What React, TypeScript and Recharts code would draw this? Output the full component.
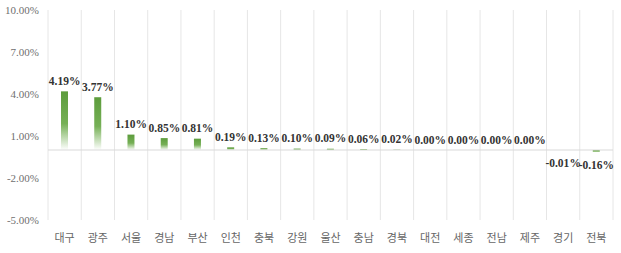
import { Bar, CartesianGrid, ComposedChart, LabelList, Line, ReferenceLine, XAxis, YAxis } from "recharts";

const regions = ["대구", "광주", "서울", "경남", "부산", "인천", "충북", "강원", "울산", "충남", "경북", "대전", "세종", "전남", "제주", "경기", "전북"];
const changes = [4.19, 3.77, 1.1, 0.85, 0.81, 0.19, 0.13, 0.1, 0.09, 0.06, 0.02, 0, 0, 0, 0, -0.01, -0.16];
const yTicks = [-5, -2, 1, 4, 7, 10];

const data = regions.map((name, i) => ({ name, value: changes[i] }));

const serif = '"Times New Roman", "Liberation Serif", serif';
const sans = '"Malgun Gothic", "Noto Sans CJK KR", sans-serif';

// labels hang off an invisible line so the 0.00% points get one too
function ValueLabel(props: any) {
  const { x, y, value } = props;
  const ty = value < 0 ? y + 17 : y - 6.5;
  return (
    <text
      x={x}
      y={ty}
      textAnchor="middle"
      fontFamily={serif}
      fontSize={11.5}
      fontWeight="bold"
      fill="#333333"
    >
      {value.toFixed(2)}%
    </text>
  );
}

export default function App() {
  return (
    <div style={{ position: "absolute", left: 0, top: 0 }}>
      <ComposedChart
        width={621}
        height={253}
        data={data}
        margin={{ top: 10, right: 8, bottom: 0, left: 0 }}
        barSize={7}
      >
        <defs>
          <linearGradient id="barGrad" x1="0" y1="0" x2="0" y2="1">
            <stop offset="0%" stopColor="#5c9c3c" />
            <stop offset="55%" stopColor="#76b056" />
            <stop offset="100%" stopColor="#ffffff" />
          </linearGradient>
        </defs>
        <CartesianGrid
          horizontal={false}
          stroke="#e6e6e6"
          verticalCoordinatesGenerator={({ offset }: any) =>
            Array.from({ length: data.length + 1 }, (_, i) => offset.left + (i * offset.width) / data.length)
          }
        />
        <XAxis
          dataKey="name"
          axisLine={false}
          tickLine={false}
          tickSize={0}
          tickMargin={14}
          height={33}
          interval={0}
          tick={{ fontFamily: sans, fontSize: 11, fill: "#666666" }}
        />
        <YAxis
          domain={[-5, 10]}
          ticks={yTicks}
          axisLine={false}
          tickLine={false}
          tickSize={0}
          tickMargin={9}
          width={48}
          tickFormatter={(v: number) => `${v.toFixed(2)}%`}
          tick={{ fontFamily: serif, fontSize: 11, fill: "#6f6f6f" }}
        />
        <ReferenceLine y={0} stroke="#d9d9d9" />
        <Bar dataKey="value" fill="url(#barGrad)" isAnimationActive={false} />
        <Line
          dataKey="value"
          stroke="none"
          dot={false}
          activeDot={false}
          legendType="none"
          isAnimationActive={false}
        >
          <LabelList dataKey="value" content={ValueLabel} />
        </Line>
      </ComposedChart>
    </div>
  );
}
